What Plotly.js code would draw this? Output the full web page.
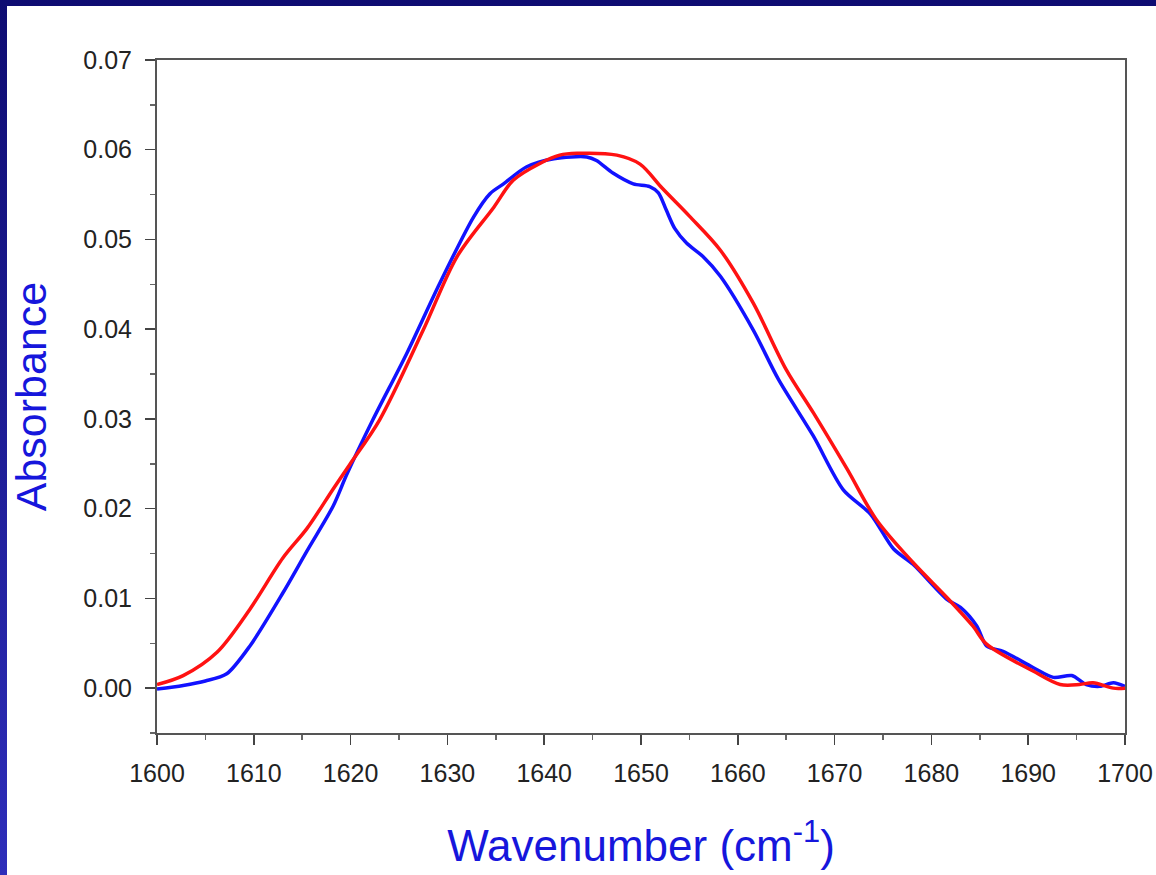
<!DOCTYPE html>
<html>
<head>
<meta charset="utf-8">
<script src="https://cdn.plot.ly/plotly-3.0.1.min.js"></script>
<style>
  html, body { margin: 0; padding: 0; width: 1156px; height: 875px; overflow: hidden;
    background: linear-gradient(to bottom, #0e0c72, #2e2eba); }
  #chart { position: absolute; left: 7px; top: 6px; width: 1149px; height: 869px; background: #fff; }
</style>
</head>
<body>
<div id="chart"></div>
<script>
// Blue spectrum (measured)
const blueWavenumber = [1600, 1602.7, 1605, 1607.2, 1609.6, 1613.0, 1615.5, 1618.2, 1619.6, 1622.3, 1625.8, 1629.2, 1632.7, 1634.4, 1635.8, 1638.2, 1641.0, 1644.4, 1645.4, 1647.1, 1649.2, 1650.9, 1651.8, 1652.6, 1653.5, 1654.7, 1656.4, 1658.2, 1661.6, 1664.2, 1667.8, 1670.9, 1673.7, 1676.1, 1678.1, 1681.6, 1683.0, 1684.7, 1685.7, 1687.4, 1690.5, 1692.6, 1694.5, 1696.0, 1697.4, 1698.8, 1700];
const blueAbsorbance = [-0.0001, 0.0003, 0.0008, 0.0016, 0.0047, 0.0106, 0.0153, 0.0203, 0.0238, 0.0299, 0.0373, 0.0451, 0.0525, 0.0551, 0.0562, 0.0581, 0.0590, 0.0592, 0.0588, 0.0574, 0.0562, 0.0559, 0.0552, 0.0533, 0.0512, 0.0496, 0.0481, 0.0459, 0.0399, 0.0344, 0.0281, 0.0221, 0.0194, 0.0155, 0.0138, 0.0099, 0.0090, 0.0069, 0.0047, 0.0041, 0.0023, 0.0012, 0.0014, 0.0004, 0.0002, 0.0006, 0.0002];

// Red spectrum (fitted)
const redWavenumber = [1600, 1602.7, 1606.2, 1609.6, 1613.0, 1615.5, 1618.2, 1619.9, 1623.0, 1627.5, 1631.0, 1634.8, 1636.8, 1639.6, 1641.6, 1643.4, 1647.5, 1649.9, 1652.2, 1655.0, 1658.2, 1661.6, 1665.0, 1667.8, 1671.3, 1674.3, 1678.1, 1681.6, 1684.3, 1685.7, 1690.5, 1693.3, 1695.3, 1696.7, 1698.8, 1700];
const redAbsorbance = [0.0004, 0.0014, 0.0040, 0.0088, 0.0145, 0.0178, 0.0222, 0.0249, 0.0299, 0.0399, 0.0481, 0.0536, 0.0566, 0.0585, 0.0594, 0.0596, 0.0594, 0.0584, 0.0557, 0.0526, 0.0488, 0.0429, 0.0355, 0.0307, 0.0244, 0.0188, 0.0140, 0.0101, 0.0069, 0.0049, 0.0019, 0.0004, 0.0004, 0.0006, 0.0000, 0.0000];

const xTickValues = [1600, 1610, 1620, 1630, 1640, 1650, 1660, 1670, 1680, 1690, 1700];
const yTickValues = [0.00, 0.01, 0.02, 0.03, 0.04, 0.05, 0.06, 0.07];
const yTickLabels = ["0.00", "0.01", "0.02", "0.03", "0.04", "0.05", "0.06", "0.07"];

const FONT = "Liberation Sans, Arial, Helvetica, sans-serif";

const traces = [
  { x: blueWavenumber, y: blueAbsorbance, type: "scatter", mode: "lines",
    line: { color: "#1212ff", width: 3.5, shape: "spline", smoothing: 0.8 }, hoverinfo: "skip" },
  { x: redWavenumber, y: redAbsorbance, type: "scatter", mode: "lines",
    line: { color: "#ff1212", width: 3.5, shape: "spline", smoothing: 0.9 }, hoverinfo: "skip" }
];

const axisCommon = {
  showgrid: false, zeroline: false,
  showline: true, linecolor: "#555555", linewidth: 2, mirror: true,
  ticks: "outside", ticklen: 10, tickwidth: 1.5, tickcolor: "#444444",
  tickfont: { family: FONT, size: 25, color: "#222222" },
  minor: { ticks: "outside", ticklen: 5, tickwidth: 1.5, tickcolor: "#666666", showgrid: false }
};

const layout = {
  width: 1149, height: 869,
  margin: { l: 150, r: 31, t: 54, b: 142 },
  paper_bgcolor: "#ffffff", plot_bgcolor: "#ffffff",
  showlegend: false,
  xaxis: Object.assign({}, axisCommon, {
    range: [1600, 1700], tickvals: xTickValues,
    minor: Object.assign({}, axisCommon.minor, { dtick: 5, tick0: 1600 }),
    ticklabelstandoff: 7,
    title: { text: "Wavenumber (cm<sup>-1</sup>)", font: { family: FONT, size: 44, color: "#1616dc" }, standoff: 44 }
  }),
  yaxis: Object.assign({}, axisCommon, {
    range: [-0.005, 0.07], tickvals: yTickValues, ticktext: yTickLabels,
    minor: Object.assign({}, axisCommon.minor, { dtick: 0.005, tick0: 0 }),
    ticklabelstandoff: 8,
    title: { text: "Absorbance", font: { family: FONT, size: 43, color: "#1616dc" }, standoff: 24 }
  })
};

Plotly.newPlot("chart", traces, layout, { staticPlot: true, displayModeBar: false });
</script>
</body>
</html>
